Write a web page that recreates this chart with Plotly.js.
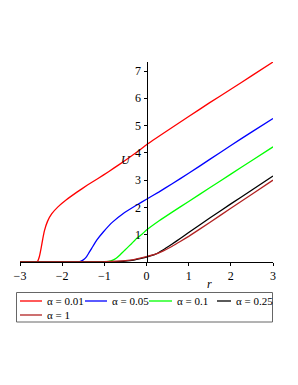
<!DOCTYPE html>
<html><head><meta charset="utf-8">
<script src="https://cdn.plot.ly/plotly-3.0.1.min.js"></script>
<style>html,body{margin:0;padding:0;background:#fff;}#chart{width:298px;height:385px;}</style>
</head><body><div id="chart"></div>
<script>
var names = ['α = 0.01','α = 0.05','α = 0.1','α = 0.25','α = 1'];
var colors = ['#ff0000','#0000ff','#00ff00','#000000','#b22222'];

var r1 = [-3,-2.62,-2.58,-2.54,-2.5,-2.46,-2.42,-2.35,-2.25,-2.1,-1.9,-1.65,-1.4,-1.15,-0.9,-0.65,-0.4,-0.2,0,0.5,1,1.5,2,2.5,3];
var u1 = [0,0,0.03,0.2,0.5,0.85,1.15,1.48,1.76,2.02,2.28,2.56,2.82,3.06,3.31,3.57,3.84,4.06,4.3,4.82,5.33,5.84,6.33,6.83,7.33];

var r2 = [-3,-1.62,-1.55,-1.48,-1.42,-1.36,-1.3,-1.18,-1.02,-0.8,-0.55,-0.25,0,0.3,0.6,1,1.5,2,2.5,3];
var u2 = [0,0,0.03,0.1,0.2,0.35,0.5,0.8,1.11,1.47,1.78,2.07,2.3,2.57,2.86,3.25,3.76,4.27,4.77,5.26];

var r3 = [-3,-1.0,-0.9,-0.8,-0.72,-0.63,-0.55,-0.47,-0.35,-0.23,-0.1,0,0.3,0.6,1,1.5,2,2.5,3];
var u3 = [0,0,0.02,0.07,0.14,0.26,0.38,0.5,0.68,0.87,1.03,1.17,1.51,1.82,2.22,2.72,3.22,3.72,4.22];

var r4 = [-3,-1,-0.7,-0.5,-0.3,-0.15,0,0.2,0.4,0.6,0.8,1,1.5,2,2.5,3];
var u4 = [0,0,0.01,0.03,0.07,0.12,0.18,0.28,0.45,0.65,0.86,1.08,1.61,2.13,2.64,3.15];

var r5 = [-3,-1.5,-1,-0.7,-0.5,-0.3,-0.15,0,0.2,0.4,0.6,0.8,1,1.5,2,2.5,3];
var u5 = [0,0,0.01,0.03,0.05,0.09,0.14,0.2,0.28,0.41,0.57,0.75,0.94,1.45,1.97,2.48,3.0];

var xTicks = [-3,-2,-1,0,1,2,3];
var xTickText = ['−3','−2','−1','0','1','2','3'];
var yTicks = [1,2,3,4,5,6,7];

var rs = [r1,r2,r3,r4,r5], us = [u1,u2,u3,u4,u5];
var font = 'Liberation Serif';
var data = rs.map(function(r,i){
  return {x:r, y:us[i], type:'scatter', mode:'lines', name:names[i], showlegend:false,
    line:{color:colors[i], width:1.3, shape:'spline', smoothing:0.4}};
});

function px(x){return (x-20)/253;}
function py(y){return (262-y)/200;}
var legSlots = [[20,42,45,301],[85,107,110,301],[149,172,175,301],[217,231,234,301],[20,42,45,315]];
var shapes = [{type:'rect', xref:'paper', yref:'paper', x0:px(16.5), x1:px(272.5), y0:py(292.5), y1:py(322),
  line:{color:'#666', width:1}, fillcolor:'rgba(0,0,0,0)'}];
var annotations = [
  {text:'<i>U</i>', xref:'paper', yref:'paper', x:px(126), y:py(160), xanchor:'center', yanchor:'middle', showarrow:false, font:{family:font, size:12}},
  {text:'<i>r</i>', xref:'paper', yref:'paper', x:px(209), y:py(284), xanchor:'center', yanchor:'middle', showarrow:false, font:{family:font, size:12}}
];
names.forEach(function(n,i){
  var s = legSlots[i];
  shapes.push({type:'line', xref:'paper', yref:'paper', x0:px(s[0]), x1:px(s[1]), y0:py(s[3]), y1:py(s[3]),
    line:{color:colors[i], width:1.3}});
  annotations.push({text:n, xref:'paper', yref:'paper', x:px(s[2]), y:py(s[3]), xanchor:'left', yanchor:'middle',
    showarrow:false, font:{family:font, size:11, color:'#000'}});
});

var layout = {
  width:298, height:385,
  margin:{l:20, r:25, t:62, b:123},
  paper_bgcolor:'#fff', plot_bgcolor:'#fff',
  showlegend:false,
  font:{family:font, size:11, color:'#000'},
  xaxis:{range:[-3,3], tickvals:xTicks, ticktext:xTickText, showgrid:false, zeroline:false,
    showline:true, linecolor:'#000', linewidth:1, ticks:'outside', ticklen:3, tickcolor:'#000',
    tickfont:{family:font, size:12}, fixedrange:true},
  yaxis:{range:[0,7.33], tickvals:yTicks, showgrid:false, zeroline:false,
    anchor:'free', position:0.5, showline:true, linecolor:'#000', linewidth:1,
    ticks:'outside', ticklen:3, tickcolor:'#000', tickfont:{family:font, size:12}, fixedrange:true},
  shapes:shapes,
  annotations:annotations
};
Plotly.newPlot('chart', data, layout, {displayModeBar:false, staticPlot:true});
</script></body></html>
